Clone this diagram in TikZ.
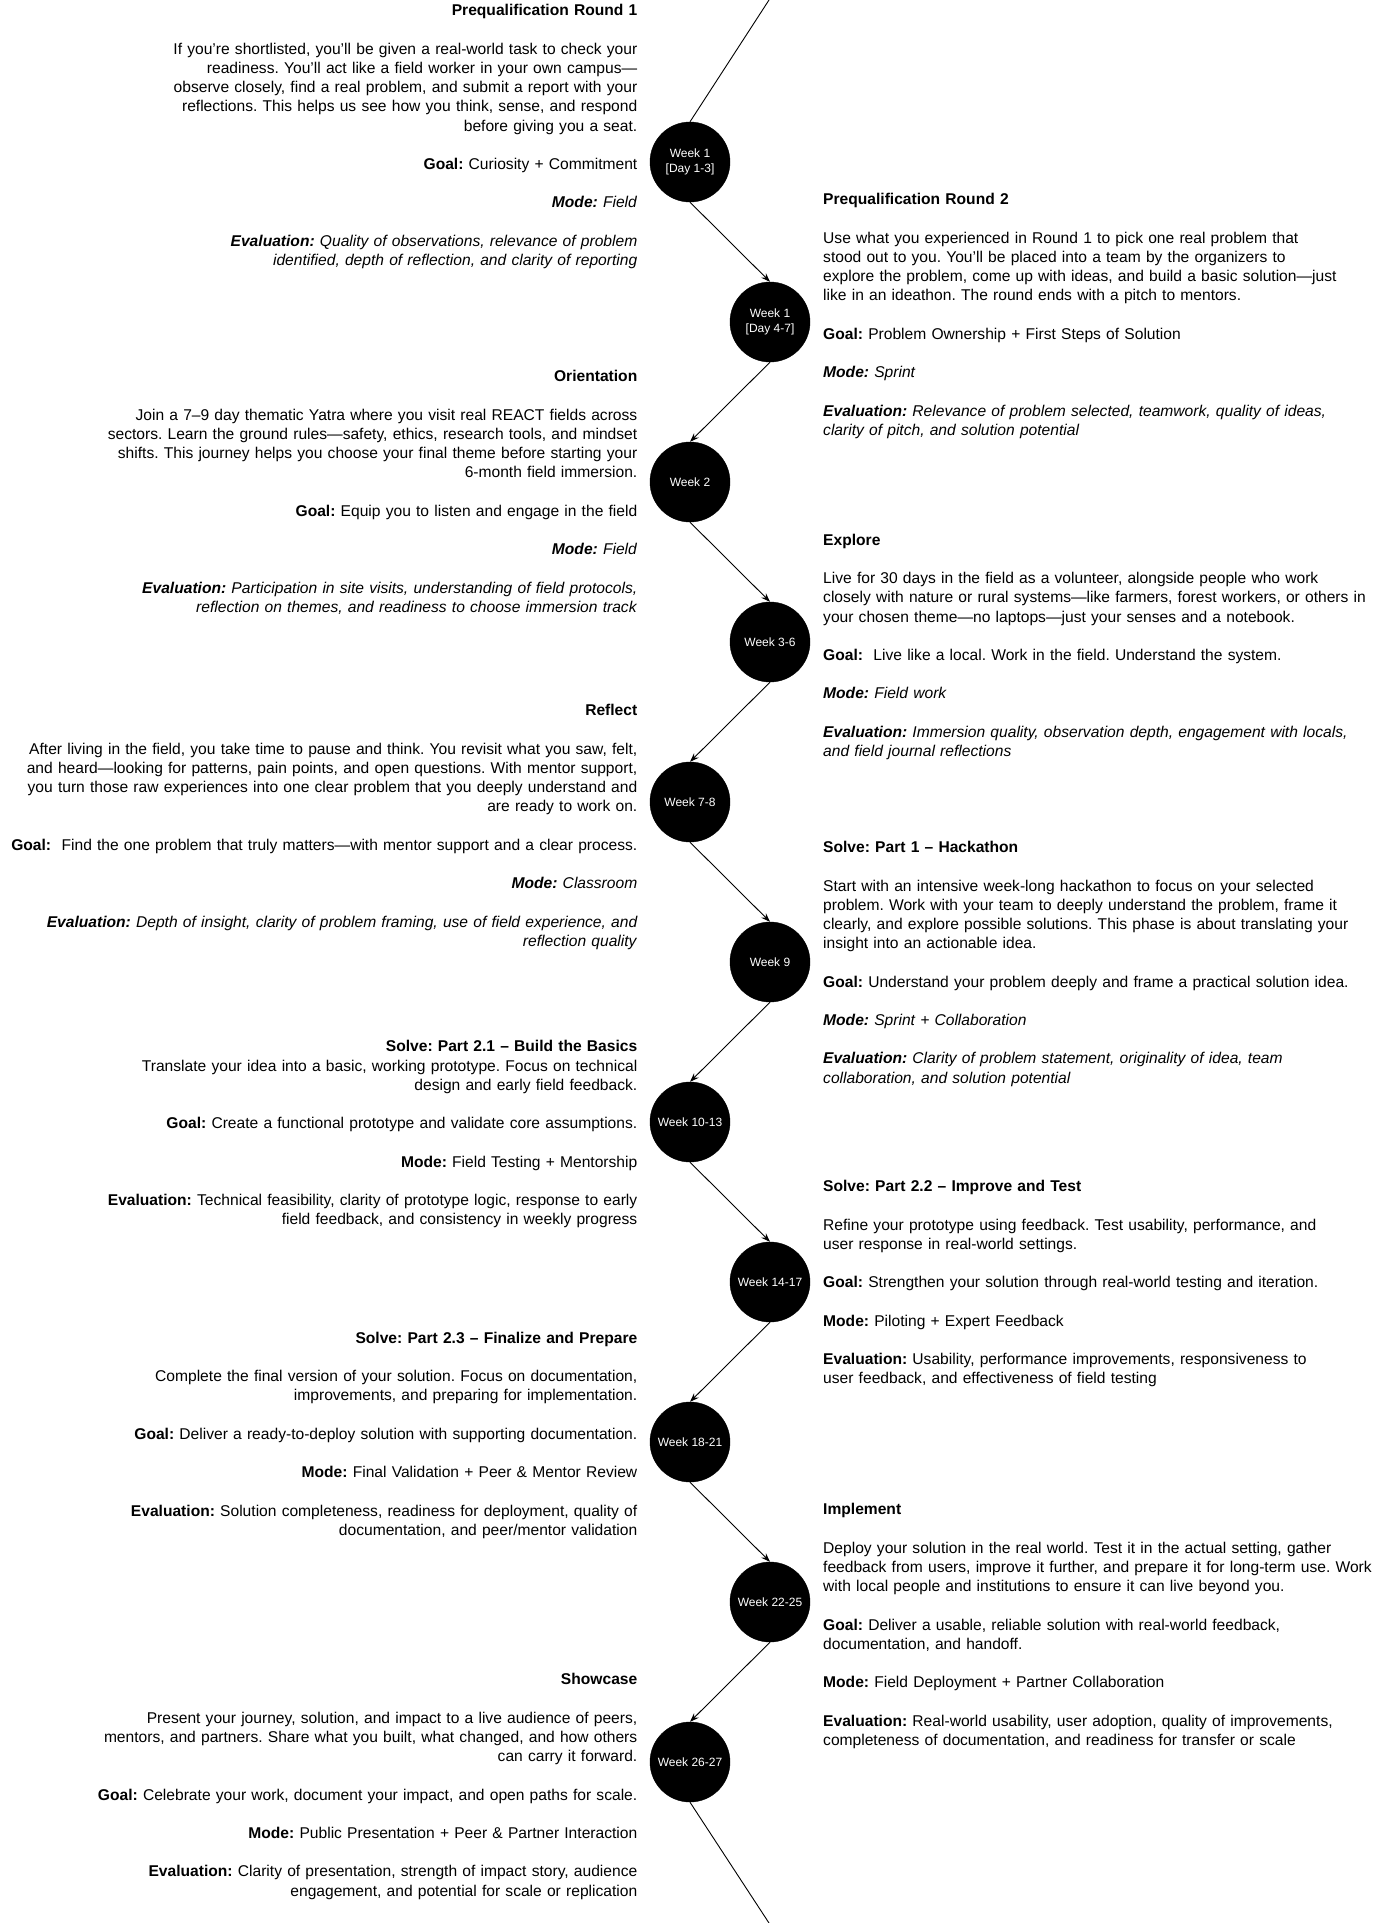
\documentclass[tikz,border=0pt]{standalone}
\usepackage{fontspec}
\setmainfont{Liberation Sans}
\usetikzlibrary{arrows.meta}
\tikzset{
  wk/.style={circle, fill=black, draw=black, minimum size=80pt, inner sep=0pt, text=white, align=center, font=\fontsize{12}{14.4}\selectfont},
  conn/.style={draw=black, line width=0.9pt, -{Stealth[length=9pt,width=6.5pt]}},
  plainline/.style={draw=black, line width=0.9pt},
  lt/.style={anchor=north east, inner sep=0pt, text width=700pt, align=right, font=\fontsize{15.6}{19.2}\selectfont\frenchspacing},
  rt/.style={anchor=north west, inner sep=0pt, text width=620pt, align=left, font=\fontsize{15.6}{19.2}\selectfont\frenchspacing}
}
\newcommand\bsk{\\[19.2pt]}
\newcommand\tsp{\hspace*{4.35pt}}
\begin{document}
\begin{tikzpicture}[x=1pt,y=-1pt]
\useasboundingbox[fill=white] (0,0) rectangle (1390,1923);

% circles
\node[wk] (w1) at (690,162) {Week 1\\{[Day 1-3]}};
\node[wk] (w2) at (770,322) {Week 1\\{[Day 4-7]}};
\node[wk] (w3) at (690,482) {Week 2};
\node[wk] (w4) at (770,642) {Week 3-6};
\node[wk] (w5) at (690,802) {Week 7-8};
\node[wk] (w6) at (770,962) {Week 9};
\node[wk] (w7) at (690,1122) {Week 10-13};
\node[wk] (w8) at (770,1282) {Week 14-17};
\node[wk] (w9) at (690,1442) {Week 18-21};
\node[wk] (w10) at (770,1602) {Week 22-25};
\node[wk] (w11) at (690,1762) {Week 26-27};

\coordinate (top) at (769,0);
\coordinate (bot) at (769,1923);

\draw[plainline] (top) -- (w1.north);
\draw[conn] (w1.south) -- (w2.north);
\draw[conn] (w2.south) -- (w3.north);
\draw[conn] (w3.south) -- (w4.north);
\draw[conn] (w4.south) -- (w5.north);
\draw[conn] (w5.south) -- (w6.north);
\draw[conn] (w6.south) -- (w7.north);
\draw[conn] (w7.south) -- (w8.north);
\draw[conn] (w8.south) -- (w9.north);
\draw[conn] (w9.south) -- (w10.north);
\draw[conn] (w10.south) -- (w11.north);
\draw[plainline] (w11.south) -- (bot);

% text blocks
\node[lt] (t1) at (637.5,2.3) {\noindent\strut\textbf{Prequalification Round 1}\bsk
If you’re shortlisted, you’ll be given a real-world task to check your\\
readiness. You’ll act like a field worker in your own campus—\\
observe closely, find a real problem, and submit a report with your\\
reflections. This helps us see how you think, sense, and respond\\
before giving you a seat.\bsk
\textbf{Goal:} Curiosity + Commitment\bsk
\textbf{\textit{Mode:}} \textit{Field}\tsp\bsk
\textbf{\textit{Evaluation:}} \textit{Quality of observations, relevance of problem\\
identified, depth of reflection, and clarity of reporting}};

\node[rt] (t2) at (823,191.3) {\noindent\strut\textbf{Prequalification Round 2}\bsk
Use what you experienced in Round 1 to pick one real problem that\\
stood out to you. You’ll be placed into a team by the organizers to\\
explore the problem, come up with ideas, and build a basic solution—just\\
like in an ideathon. The round ends with a pitch to mentors.\bsk
\textbf{Goal:} Problem Ownership + First Steps of Solution\bsk
\textbf{\textit{Mode:}} \textit{Sprint}\bsk
\textbf{\textit{Evaluation:}} \textit{Relevance of problem selected, teamwork, quality of ideas,\\
clarity of pitch, and solution potential}};

\node[lt] (t3) at (637.5,368.3) {\noindent\strut\textbf{Orientation}\bsk
Join a 7–9 day thematic Yatra where you visit real REACT fields across\\
sectors. Learn the ground rules—safety, ethics, research tools, and mindset\\
shifts. This journey helps you choose your final theme before starting your\\
6-month field immersion.\bsk
\textbf{Goal:} Equip you to listen and engage in the field\bsk
\textbf{\textit{Mode:}} \textit{Field}\tsp\bsk
\textbf{\textit{Evaluation:}} \textit{Participation in site visits, understanding of field protocols,\\
reflection on themes, and readiness to choose immersion track}};

\node[rt] (t4) at (823,531.6) {\noindent\strut\textbf{Explore}\bsk
Live for 30 days in the field as a volunteer, alongside people who work\\
closely with nature or rural systems—like farmers, forest workers, or others in\\
your chosen theme—no laptops—just your senses and a notebook.\bsk
\textbf{Goal:}\ \ Live like a local. Work in the field. Understand the system.\bsk
\textbf{\textit{Mode:}} \textit{Field work}\bsk
\textbf{\textit{Evaluation:}} \textit{Immersion quality, observation depth, engagement with locals,\\
and field journal reflections}};

\node[lt] (t5) at (637.5,702.3) {\noindent\strut\textbf{Reflect}\bsk
After living in the field, you take time to pause and think. You revisit what you saw, felt,\\
and heard—looking for patterns, pain points, and open questions. With mentor support,\\
you turn those raw experiences into one clear problem that you deeply understand and\\
are ready to work on.\bsk
\textbf{Goal:}\ \ Find the one problem that truly matters—with mentor support and a clear process.\bsk
\textbf{\textit{Mode:}} \textit{Classroom}\bsk
\textbf{\textit{Evaluation:}} \textit{Depth of insight, clarity of problem framing, use of field experience, and\\
reflection quality}};

\node[rt] (t6) at (823,839) {\noindent\strut\textbf{Solve: Part 1 – Hackathon}\bsk
Start with an intensive week-long hackathon to focus on your selected\\
problem. Work with your team to deeply understand the problem, frame it\\
clearly, and explore possible solutions. This phase is about translating your\\
insight into an actionable idea.\bsk
\textbf{Goal:} Understand your problem deeply and frame a practical solution idea.\bsk
\textbf{\textit{Mode:}} \textit{Sprint + Collaboration}\bsk
\textbf{\textit{Evaluation:}} \textit{Clarity of problem statement, originality of idea, team\\
collaboration, and solution potential}};

\node[lt] (t7) at (637.5,1038.3) {\noindent\strut\textbf{Solve: Part 2.1 – Build the Basics}\tsp\\
Translate your idea into a basic, working prototype. Focus on technical\\
design and early field feedback.\bsk
\textbf{Goal:} Create a functional prototype and validate core assumptions.\bsk
\textbf{Mode:} Field Testing + Mentorship\bsk
\textbf{Evaluation:} Technical feasibility, clarity of prototype logic, response to early\\
field feedback, and consistency in weekly progress};

\node[rt] (t8) at (823,1178) {\noindent\strut\textbf{Solve: Part 2.2 – Improve and Test}\bsk
Refine your prototype using feedback. Test usability, performance, and\\
user response in real-world settings.\bsk
\textbf{Goal:} Strengthen your solution through real-world testing and iteration.\bsk
\textbf{Mode:} Piloting + Expert Feedback\bsk
\textbf{Evaluation:} Usability, performance improvements, responsiveness to\\
user feedback, and effectiveness of field testing};

\node[lt] (t9) at (637.5,1329.6) {\noindent\strut\textbf{Solve: Part 2.3 – Finalize and Prepare}\bsk
Complete the final version of your solution. Focus on documentation,\\
improvements, and preparing for implementation.\bsk
\textbf{Goal:} Deliver a ready-to-deploy solution with supporting documentation.\bsk
\textbf{Mode:} Final Validation + Peer \& Mentor Review\bsk
\textbf{Evaluation:} Solution completeness, readiness for deployment, quality of\\
documentation, and peer/mentor validation};

\node[rt] (t10) at (823,1501.3) {\noindent\strut\textbf{Implement}\bsk
Deploy your solution in the real world. Test it in the actual setting, gather\\
feedback from users, improve it further, and prepare it for long-term use. Work\\
with local people and institutions to ensure it can live beyond you.\bsk
\textbf{Goal:} Deliver a usable, reliable solution with real-world feedback,\\
documentation, and handoff.\bsk
\textbf{Mode:} Field Deployment + Partner Collaboration\bsk
\textbf{Evaluation:} Real-world usability, user adoption, quality of improvements,\\
completeness of documentation, and readiness for transfer or scale};

\node[lt] (t11) at (637.5,1671.3) {\noindent\strut\textbf{Showcase}\bsk
Present your journey, solution, and impact to a live audience of peers,\\
mentors, and partners. Share what you built, what changed, and how others\\
can carry it forward.\bsk
\textbf{Goal:} Celebrate your work, document your impact, and open paths for scale.\bsk
\textbf{Mode:} Public Presentation + Peer \& Partner Interaction\bsk
\textbf{Evaluation:} Clarity of presentation, strength of impact story, audience\\
engagement, and potential for scale or replication};
\end{tikzpicture}
\end{document}
